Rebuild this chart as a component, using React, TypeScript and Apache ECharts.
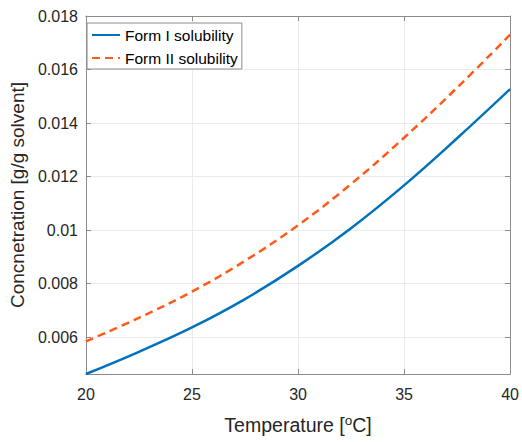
import React, { useEffect, useRef } from "react";
import * as echarts from "echarts";

const temperatures = [20, 22.5, 25, 27.5, 30, 32.5, 35, 37.5, 40];
const formI = [0.00462, 0.00545, 0.00636, 0.00742, 0.00866, 0.01007, 0.01167, 0.01343, 0.01527];
const formII = [0.00584, 0.00672, 0.0077, 0.00885, 0.01018, 0.01172, 0.01345, 0.01532, 0.0173];
const xTicks = [20, 25, 30, 35, 40];
const yTicks = [0.006, 0.008, 0.01, 0.012, 0.014, 0.016, 0.018];
const seriesNames = ["Form I solubility", "Form II solubility"];
const xTitle = "Temperature [{sup|o}C]";
const yTitle = "Concnetration [g/g solvent]";

const FONT = "'Liberation Sans', Arial, Helvetica, sans-serif";
const AXIS = "#8c8c8c";
const TEXT = "#262626";
const GRID = "#ebebeb";

export default function App() {
  const ref = useRef<HTMLDivElement>(null);
  useEffect(() => {
    if (!ref.current) return;
    const chart = echarts.init(ref.current, undefined, { renderer: "svg" });
    const yMin = formI[0];
    const yMax = yTicks[yTicks.length - 1];
    const baseX = {
      type: "value" as const,
      min: xTicks[0],
      max: xTicks[xTicks.length - 1],
      interval: 5,
      axisLine: { show: true, onZero: false, lineStyle: { color: AXIS, width: 1 } },
      axisTick: { show: true, inside: true, length: 5, lineStyle: { color: AXIS } },
    };
    const baseY = {
      type: "value" as const,
      min: yMin,
      max: yMax,
      axisLine: { show: true, onZero: false, lineStyle: { color: AXIS, width: 1 } },
      axisTick: { show: true, inside: true, length: 5, customValues: yTicks, lineStyle: { color: AXIS } },
    };
    chart.setOption({
      animation: false,
      backgroundColor: "#ffffff",
      grid: { left: 83, right: 9, top: 16, bottom: 60 },
      legend: {
        orient: "vertical",
        left: 87,
        top: 23,
        padding: [4, 4, 3, 4],
        itemGap: 7,
        itemWidth: 28,
        itemHeight: 14,
        borderColor: AXIS,
        borderWidth: 1,
        borderRadius: 0,
        backgroundColor: "#ffffff",
        itemStyle: { color: "rgba(0,0,0,0)", opacity: 0, borderWidth: 0 },
        textStyle: { fontSize: 15.5, lineHeight: 16, color: "#000000", fontFamily: FONT, padding: [0, 0, 0, 0] },
        data: seriesNames,
      },
      xAxis: [
        {
          ...baseX,
          position: "bottom",
          name: xTitle,
          nameLocation: "middle",
          nameGap: 39,
          nameTextStyle: {
            fontSize: 19.5,
            color: TEXT,
            fontFamily: FONT,
            lineHeight: 24,
            rich: {
              sup: { fontSize: 13.5, lineHeight: 12, verticalAlign: "top", color: TEXT, fontFamily: FONT },
            },
          },
          axisLabel: { show: true, color: TEXT, fontSize: 16, fontFamily: FONT, margin: 12 },
          splitLine: { show: true, lineStyle: { color: GRID, width: 1 } },
        },
        {
          ...baseX,
          position: "top",
          axisLabel: { show: false },
          splitLine: { show: false },
        },
      ],
      yAxis: [
        {
          ...baseY,
          position: "left",
          name: yTitle,
          nameLocation: "middle",
          nameRotate: 90,
          nameGap: 53,
          nameTextStyle: { fontSize: 19, color: TEXT, fontFamily: FONT },
          axisLabel: { show: true, customValues: yTicks, color: TEXT, fontSize: 16, fontFamily: FONT, margin: 8 },
          splitLine: { show: true, lineStyle: { color: GRID, width: 1 } },
        },
        {
          ...baseY,
          position: "right",
          axisLabel: { show: false },
          splitLine: { show: false },
        },
      ],
      series: [
        {
          name: seriesNames[0],
          type: "line",
          data: temperatures.map((t, i) => [t, formI[i]]),
          smooth: 0.4,
          showSymbol: false,
          symbol: "none",
          lineStyle: { color: "#0072BD", width: 2.5 },
          itemStyle: { color: "#0072BD" },
          z: 3,
        },
        {
          name: seriesNames[1],
          type: "line",
          data: temperatures.map((t, i) => [t, formII[i]]),
          smooth: 0.4,
          showSymbol: false,
          symbol: "none",
          lineStyle: { color: "#FF5A1A", width: 2.5, type: [8, 5] },
          itemStyle: { color: "#FF5A1A" },
          z: 3,
        },
      ],
    });
    return () => chart.dispose();
  }, []);
  return (
    <div
      ref={ref}
      style={{ position: "fixed", left: 0, top: 0, width: 522, height: 442, background: "#fff" }}
    />
  );
}
